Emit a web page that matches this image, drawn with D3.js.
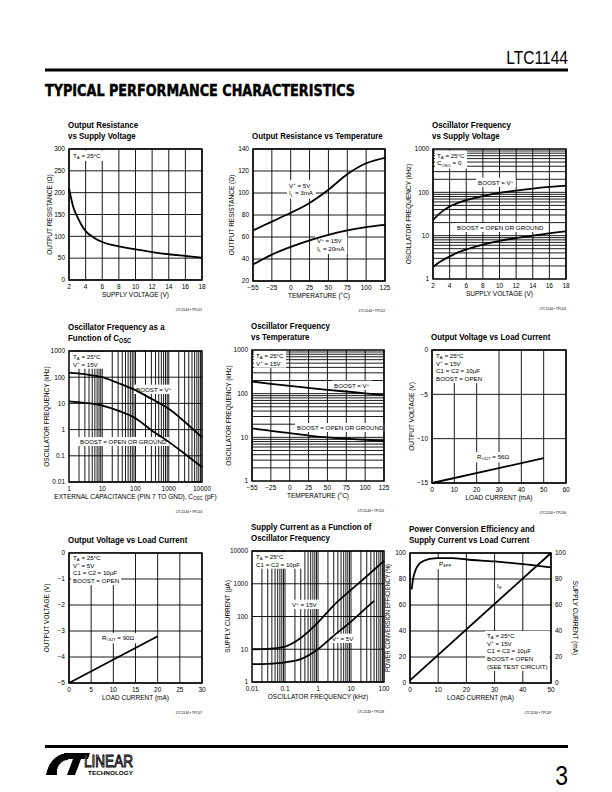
<!DOCTYPE html>
<html>
<head>
<meta charset="utf-8">
<script src="https://cdn.jsdelivr.net/npm/d3@7"></script>
<style>
body { margin: 0; background: #fff; }
svg text { font-family: "Liberation Sans", Arial, sans-serif; fill: #000; }
.title { font-weight: bold; font-size: 9.5px; }
.tick { font-size: 6.5px; }
.axt { font-size: 6.5px; }
.note { font-size: 6.2px; }
.tpc { font-size: 3.3px; }
</style>
</head>
<body>
<svg id="page" width="612" height="792"></svg>
<script>
// ---- data ----
var voltTicks = [2, 4, 6, 8, 10, 12, 14, 16, 18]
var tempTicks = [-55, -25, 0, 25, 50, 75, 100, 125]

// 1: output resistance vs supply voltage
var vSupply1 = [2, 2.5, 3, 3.5, 4, 5, 6, 7, 8, 10, 12, 14, 16, 18]
var rOutVsSupply = [210, 168, 145, 126, 112, 97, 87, 81, 77, 70, 64, 59, 55, 51]
var ohmTicks1 = [0, 50, 100, 150, 200, 250, 300]

// 2: output resistance vs temperature
var rOut5V = [66, 74, 82, 91, 103, 117, 127, 132]
var rOut15V = [35, 44, 51, 57, 62, 66, 69, 71]
var ohmTicks2 = [20, 40, 60, 80, 100, 120, 140]

// 3: oscillator frequency vs supply voltage
var vSupply3 = [2, 3, 4, 5, 6, 8, 10, 12, 14, 16, 18]
var fBoostV = [23, 35, 47, 57, 66, 82, 97, 110, 122, 133, 143]
var fBoostOpenV = [1.9, 2.6, 3.3, 4.1, 4.8, 6.2, 7.6, 8.8, 10, 11.3, 12.5]
var khzTicks = [1, 10, 100, 1000]

// 4: oscillator frequency vs Cosc
var cOsc = [1, 3, 10, 30, 100, 300, 1000, 3000, 10000]
var fBoostC = [150, 130, 100, 60, 32, 15, 6.2, 2.0, 0.5]
var fBoostOpenC = [12, 10.5, 8.3, 5.3, 2.7, 0.95, 0.34, 0.12, 0.037]
var capTicks = [1, 10, 100, 1000, 10000]
var khzTicks4 = [0.01, 0.1, 1, 10, 100, 1000]

// 5: oscillator frequency vs temperature
var fBoostT = [190, 168, 150, 135, 122, 112, 102, 93]
var fBoostOpenT = [16, 14, 12.5, 11, 10, 9.3, 8.8, 8.3]

// 6: output voltage vs load current, V+ = 15V
var iLoad6 = [0, 50]
var vOut15 = [-15, -12.2]
var mATicks6 = [0, 10, 20, 30, 40, 50, 60]
var voltTicks6 = [-15, -10, -5, 0]

// 7: output voltage vs load current, V+ = 5V
var iLoad7 = [0, 20]
var vOut5 = [-5, -3.2]
var mATicks7 = [0, 5, 10, 15, 20, 25, 30]
var voltTicks7 = [-5, -4, -3, -2, -1, 0]

// 8: supply current vs oscillator frequency
var fOsc15 = [0.01, 0.03, 0.1, 0.3, 1, 3, 10, 30, 100]
var iSup15 = [10, 10.2, 12, 22, 66, 220, 650, 1700, 5000]
var fOsc5 = [0.01, 0.03, 0.1, 0.3, 1, 3, 10, 30, 50]
var iSup5 = [3.5, 3.6, 4, 5, 10, 26, 70, 190, 300]
var fTicks8 = [0.01, 0.1, 1, 10, 100]
var uATicks = [1, 10, 100, 1000, 10000]

// 9: efficiency and supply current vs load current
var iLoad9 = [0.6, 1, 2, 3, 5, 7, 10, 15, 20, 30, 40, 50]
var pEff = [72, 79, 87, 91, 94, 95.5, 96, 96, 95, 93.5, 91.5, 89]
var iLoadIs = [0, 50]
var iSupply = [2, 100]
var mATicks9 = [0, 10, 20, 30, 40, 50]
var pctTicks = [0, 20, 40, 60, 80, 100]

var svg = d3.select("#page")

function logGrid(lo, hi) {
    var out = []
    for (var d = Math.floor(Math.log10(lo)); d < Math.ceil(Math.log10(hi)); d++)
        for (var k = 1; k < 10; k++) {
            var v = k * Math.pow(10, d)
            if (v > lo * 1.0001 && v < hi * 0.9999) out.push(v)
        }
    return out
}

function fmt(v) {
    return String(+v.toPrecision(6)).replace("-", "\u2212")
}

// tiny markup: _{sub} and ^{sup}
function rich(t, str, fs) {
    var parts = str.split(/([_^]\{[^}]*\})/), shift = 0
    parts.forEach(function(p) {
        if (!p) return
        var s = 0, txt = p
        if (/^[_^]\{/.test(p)) { s = p[0] == "_" ? 0.22 * fs : -0.38 * fs; txt = p.slice(2, -1) }
        var ts = t.append("tspan").text(txt)
        if (s != shift) ts.attr("dy", s - shift)
        if (s) ts.attr("font-size", (fs * 0.7) + "px")
        shift = s
    })
    return t
}

function note(g, n) {
    var grp = g.append("g")
    var bg = grp.append("rect").attr("fill", "#fff")
    var texts = n.lines.map(function(s, i) {
        return rich(grp.append("text").attr("class", "note")
            .attr("x", n.x).attr("y", n.y + i * 7.7), s, 6.2)
    })
    if (n.box) {
        var x0 = 1e9, y0 = 1e9, x1 = -1e9, y1 = -1e9
        texts.forEach(function(t) {
            var b = t.node().getBBox()
            x0 = Math.min(x0, b.x); y0 = Math.min(y0, b.y)
            x1 = Math.max(x1, b.x + b.width); y1 = Math.max(y1, b.y + b.height)
        })
        bg.attr("x", x0 - 2).attr("y", y0 - 1).attr("width", x1 - x0 + 4).attr("height", y1 - y0 + 2)
    }
}

function panel(o) {
    var g = svg.append("g").attr("transform", "translate(" + o.left + "," + o.top + ")")
    var x = o.x.range(o.xRange ? o.xRange(o.w) : [0, o.w])
    var y = o.y.range([o.h, 0])

    // titles are set in a condensed bold face in the original
    o.title.forEach(function(s, i) {
        rich(g.append("text").attr("class", "title")
            .attr("transform", "translate(-1," + (-10.5 - (o.title.length - 1 - i) * 10.2) + ") scale(0.835,1)"), s, 9.5)
    })

    g.selectAll(".gx").data(o.gridX).enter().append("line")
        .attr("x1", function(d) { return x(d) }).attr("x2", function(d) { return x(d) })
        .attr("y1", 0).attr("y2", o.h)
        .attr("stroke", "#000").attr("stroke-width", 0.9)
    g.selectAll(".gy").data(o.gridY).enter().append("line")
        .attr("y1", function(d) { return y(d) }).attr("y2", function(d) { return y(d) })
        .attr("x1", 0).attr("x2", o.w)
        .attr("stroke", "#000").attr("stroke-width", 0.9)

    g.selectAll(".xt").data(o.xTicks).enter().append("text")
        .attr("class", "tick").attr("text-anchor", "middle")
        .attr("x", function(d) { return x(d) }).attr("y", o.h + 8.5)
        .text(fmt)
    g.selectAll(".yt").data(o.yTicks).enter().append("text")
        .attr("class", "tick").attr("text-anchor", "end")
        .attr("x", -4).attr("y", function(d) { return y(d) + 2.3 })
        .text(fmt)

    rich(g.append("text").attr("class", "axt").attr("text-anchor", "middle")
        .attr("x", o.w / 2).attr("y", o.h + 17), o.xTitle, 6.5)
    var yt = rich(g.append("text").attr("class", "axt").attr("text-anchor", "middle")
        .attr("transform", "translate(" + o.yTitleDx + "," + (o.h / 2) + ") rotate(-90)")
        .attr("dy", "0.35em"), o.yTitle, 6.5)
    if (o.yTitleLen) yt.attr("textLength", o.yTitleLen).attr("lengthAdjust", "spacingAndGlyphs")

    if (o.y2) {
        var y2 = o.y2.range([o.h, 0])
        g.selectAll(".y2t").data(o.y2Ticks).enter().append("text")
            .attr("class", "tick").attr("text-anchor", "start")
            .attr("x", o.w + 4).attr("y", function(d) { return y2(d) + 2.3 })
            .text(fmt)
        g.append("text").attr("class", "axt").attr("text-anchor", "middle")
            .attr("transform", "translate(" + (o.w + 24) + "," + (o.h / 2) + ") rotate(90)")
            .attr("dy", "0.35em").text(o.y2Title)
    }

    o.notes.forEach(function(n) { note(g, n) })

    o.series.forEach(function(s) {
        var ys = s.axis == 2 ? o.y2.range([o.h, 0]) : y
        var line = d3.line()
            .x(function(d) { return x(d[0]) })
            .y(function(d) { return ys(d[1]) })
            .curve(d3.curveMonotoneX)
        g.append("path")
            .datum(d3.zip(s.x, s.y))
            .attr("d", line)
            .attr("fill", "none").attr("stroke", "#000").attr("stroke-width", 1.8)
    })

    g.append("rect").attr("width", o.w).attr("height", o.h)
        .attr("fill", "none").attr("stroke", "#000").attr("stroke-width", 1.5)

    g.append("text").attr("class", "tpc").attr("text-anchor", "end")
        .attr("x", o.w).attr("y", o.h + 31).text("LTC1144 \u2022 TPC0" + o.id)
}

function evenRange(n) {
    return function(w) { return d3.range(n).map(function(i) { return i * w / (n - 1) }) }
}

var panels = [
    { id: 1, left: 69, top: 149, w: 133, h: 131,
      title: ["Output Resistance", "vs Supply Voltage"],
      x: d3.scaleLinear().domain([2, 18]), y: d3.scaleLinear().domain([0, 300]),
      xTicks: voltTicks, yTicks: ohmTicks1, gridX: voltTicks, gridY: ohmTicks1,
      xTitle: "SUPPLY VOLTAGE (V)", yTitle: "OUTPUT RESISTANCE (\u03a9)", yTitleDx: -19,
      series: [{ x: vSupply1, y: rOutVsSupply }],
      notes: [{ x: 4, y: 8.5, lines: ["T_{A} = 25\u00b0C"], box: true }] },
    { id: 2, left: 253, top: 149, w: 132, h: 132,
      title: ["Output Resistance vs Temperature"],
      x: d3.scaleLinear().domain(tempTicks), xRange: evenRange(tempTicks.length),
      y: d3.scaleLinear().domain([20, 140]),
      xTicks: tempTicks, yTicks: ohmTicks2, gridX: tempTicks, gridY: ohmTicks2,
      xTitle: "TEMPERATURE (\u00b0C)", yTitle: "OUTPUT RESISTANCE (\u03a9)", yTitleDx: -21,
      series: [{ x: tempTicks, y: rOut5V }, { x: tempTicks, y: rOut15V }],
      notes: [{ x: 36, y: 38.5, lines: ["V^{+} = 5V", "I_{L} = 3mA"], box: true },
              { x: 64, y: 94, lines: ["V^{+} = 15V", "I_{L} = 20mA"], box: true }] },
    { id: 3, left: 433, top: 149, w: 133, h: 130,
      title: ["Oscillator Frequency", "vs Supply Voltage"],
      x: d3.scaleLinear().domain([2, 18]), y: d3.scaleLog().domain([1, 1000]),
      xTicks: voltTicks, yTicks: khzTicks, gridX: voltTicks, gridY: logGrid(1, 1000),
      xTitle: "SUPPLY VOLTAGE (V)", yTitle: "OSCILLATOR FREQUENCY (kHz)", yTitleDx: -24,
      series: [{ x: vSupply3, y: fBoostV }, { x: vSupply3, y: fBoostOpenV }],
      notes: [{ x: 4, y: 8.5, lines: ["T_{A} = 25\u00b0C", "C_{OSC} = 0"], box: true },
              { x: 45, y: 36, lines: ["BOOST = V^{+}"], box: true },
              { x: 24, y: 81, lines: ["BOOST = OPEN OR GROUND"], box: true }] },
    { id: 4, left: 69, top: 351, w: 133, h: 131,
      title: ["Oscillator Frequency as a", "Function of C_{OSC}"],
      x: d3.scaleLog().domain([1, 10000]), y: d3.scaleLog().domain([0.01, 1000]),
      xTicks: capTicks, yTicks: khzTicks4, gridX: logGrid(1, 10000), gridY: khzTicks4,
      xTitle: "EXTERNAL CAPACITANCE (PIN 7 TO GND), C_{OSC} (pF)", yTitle: "OSCILLATOR FREQUENCY (kHz)", yTitleDx: -22,
      series: [{ x: cOsc, y: fBoostC }, { x: cOsc, y: fBoostOpenC }],
      notes: [{ x: 4, y: 8, lines: ["T_{A} = 25\u00b0C", "V^{+} = 15V"], box: true },
              { x: 67, y: 41, lines: ["BOOST = V^{+}"], box: true },
              { x: 11, y: 93, lines: ["BOOST = OPEN OR GROUND"], box: true }] },
    { id: 5, left: 252, top: 350, w: 132, h: 131,
      title: ["Oscillator Frequency", "vs Temperature"],
      x: d3.scaleLinear().domain(tempTicks), xRange: evenRange(tempTicks.length),
      y: d3.scaleLog().domain([1, 1000]),
      xTicks: tempTicks, yTicks: khzTicks, gridX: tempTicks, gridY: logGrid(1, 1000),
      xTitle: "TEMPERATURE (\u00b0C)", yTitle: "OSCILLATOR FREQUENCY (kHz)", yTitleDx: -23,
      series: [{ x: tempTicks, y: fBoostT }, { x: tempTicks, y: fBoostOpenT }],
      notes: [{ x: 4, y: 8, lines: ["T_{A} = 25\u00b0C", "V^{+} = 15V"], box: true },
              { x: 82, y: 38, lines: ["BOOST = V^{+}"], box: true },
              { x: 45, y: 80, lines: ["BOOST = OPEN OR GROUND"], box: true }] },
    { id: 6, left: 432, top: 350, w: 134, h: 133,
      title: ["Output Voltage vs Load Current"],
      x: d3.scaleLinear().domain([0, 60]), y: d3.scaleLinear().domain([-15, 0]),
      xTicks: mATicks6, yTicks: voltTicks6, gridX: mATicks6, gridY: voltTicks6,
      xTitle: "LOAD CURRENT (mA)", yTitle: "OUTPUT VOLTAGE (V)", yTitleDx: -20,
      series: [{ x: iLoad6, y: vOut15 }],
      notes: [{ x: 4, y: 8, lines: ["T_{A} = 25\u00b0C", "V^{+} = 15V", "C1 = C2 = 10\u00b5F", "BOOST = OPEN"], box: true },
              { x: 45, y: 109, lines: ["R_{OUT} = 56\u03a9"], box: true }] },
    { id: 7, left: 69, top: 553, w: 133, h: 130,
      title: ["Output Voltage vs Load Current"],
      x: d3.scaleLinear().domain([0, 30]), y: d3.scaleLinear().domain([-5, 0]),
      xTicks: mATicks7, yTicks: voltTicks7, gridX: mATicks7, gridY: voltTicks7,
      xTitle: "LOAD CURRENT (mA)", yTitle: "OUTPUT VOLTAGE (V)", yTitleDx: -22,
      series: [{ x: iLoad7, y: vOut5 }],
      notes: [{ x: 4, y: 7, lines: ["T_{A} = 25\u00b0C", "V^{+} = 5V", "C1 = C2 = 10\u00b5F", "BOOST = OPEN"], box: true },
              { x: 33, y: 87, lines: ["R_{OUT} = 90\u03a9"], box: true }] },
    { id: 8, left: 252, top: 551, w: 132, h: 131,
      title: ["Supply Current as a Function of", "Oscillator Frequency"],
      x: d3.scaleLog().domain([0.01, 100]), y: d3.scaleLog().domain([1, 10000]),
      xTicks: fTicks8, yTicks: uATicks, gridX: logGrid(0.01, 100), gridY: uATicks,
      xTitle: "OSCILLATOR FREQUENCY (kHz)", yTitle: "SUPPLY CURRENT (\u00b5A)", yTitleDx: -24,
      series: [{ x: fOsc15, y: iSup15 }, { x: fOsc5, y: iSup5 }],
      notes: [{ x: 4, y: 8, lines: ["T_{A} = 25\u00b0C", "C1 = C2 = 10pF"], box: true },
              { x: 40, y: 56, lines: ["V^{+} = 15V"], box: true },
              { x: 80, y: 90, lines: ["V^{+} = 5V"], box: true }] },
    { id: 9, left: 410, top: 553, w: 141, h: 130,
      title: ["Power Conversion Efficiency and", "Supply Current vs Load Current"],
      x: d3.scaleLinear().domain([0, 50]), y: d3.scaleLinear().domain([0, 100]),
      y2: d3.scaleLinear().domain([0, 100]), y2Ticks: pctTicks, y2Title: "SUPPLY CURRENT (mA)",
      xTicks: mATicks9, yTicks: pctTicks, gridX: mATicks9, gridY: pctTicks,
      xTitle: "LOAD CURRENT (mA)", yTitle: "POWER CONVERSION EFFICIENCY (%)", yTitleDx: -22, yTitleLen: 108,
      series: [{ x: iLoad9, y: pEff }, { x: iLoadIs, y: iSupply, axis: 2 }],
      notes: [{ x: 29, y: 13, lines: ["P_{EFF}"], box: true },
              { x: 87, y: 35, lines: ["I_{S}"], box: true },
              { x: 77, y: 85, lines: ["T_{A} = 25\u00b0C", "V^{+} = 15V", "C1 = C2 = 10\u00b5F", "BOOST = OPEN", "(SEE TEST CIRCUIT)"], box: true }] }
]

panels.forEach(panel)

// ---- page header ----
svg.append("text").attr("transform", "translate(568,64) scale(0.82,1)").attr("text-anchor", "end")
    .style("font-size", "19px").text("LTC1144")
svg.append("rect").attr("x", 45).attr("y", 68.5).attr("width", 523).attr("height", 3)
svg.append("text").attr("x", 45).attr("y", 96)
    .attr("textLength", 310).attr("lengthAdjust", "spacingAndGlyphs")
    .style("font-family", "'DejaVu Sans Condensed', 'DejaVu Sans', sans-serif")
    .style("font-weight", "bold").style("font-size", "15px")
    .style("stroke", "#000").style("stroke-width", 0.4)
    .text("TYPICAL PERFORMANCE CHARACTERISTICS")

// ---- page footer ----
svg.append("rect").attr("x", 45).attr("y", 745).attr("width", 523).attr("height", 3)
svg.append("path")
    .attr("d", "M46,775 C48,765 53,757 62,754 L70,754 L68,760 C62,760 58,765 57,770 L57,775 Z")
svg.append("path")
    .attr("d", "M64,753 L90,753 L88,759 L81,759 L75,775 L67,775 L73,759 L62,759 Z")
svg.append("text").attr("x", 84).attr("y", 767)
    .attr("textLength", 49).attr("lengthAdjust", "spacingAndGlyphs")
    .style("font-size", "16px").style("fill", "#fff").style("stroke", "#000").style("stroke-width", 1)
    .text("LINEAR")
svg.append("text").attr("x", 88).attr("y", 774.5)
    .attr("textLength", 45).attr("lengthAdjust", "spacingAndGlyphs")
    .style("font-weight", "bold").style("font-size", "5.5px")
    .text("TECHNOLOGY")
svg.append("text").attr("transform", "translate(568,785) scale(0.82,1)").attr("text-anchor", "end")
    .style("font-size", "28px").text("3")
</script>
</body>
</html>
